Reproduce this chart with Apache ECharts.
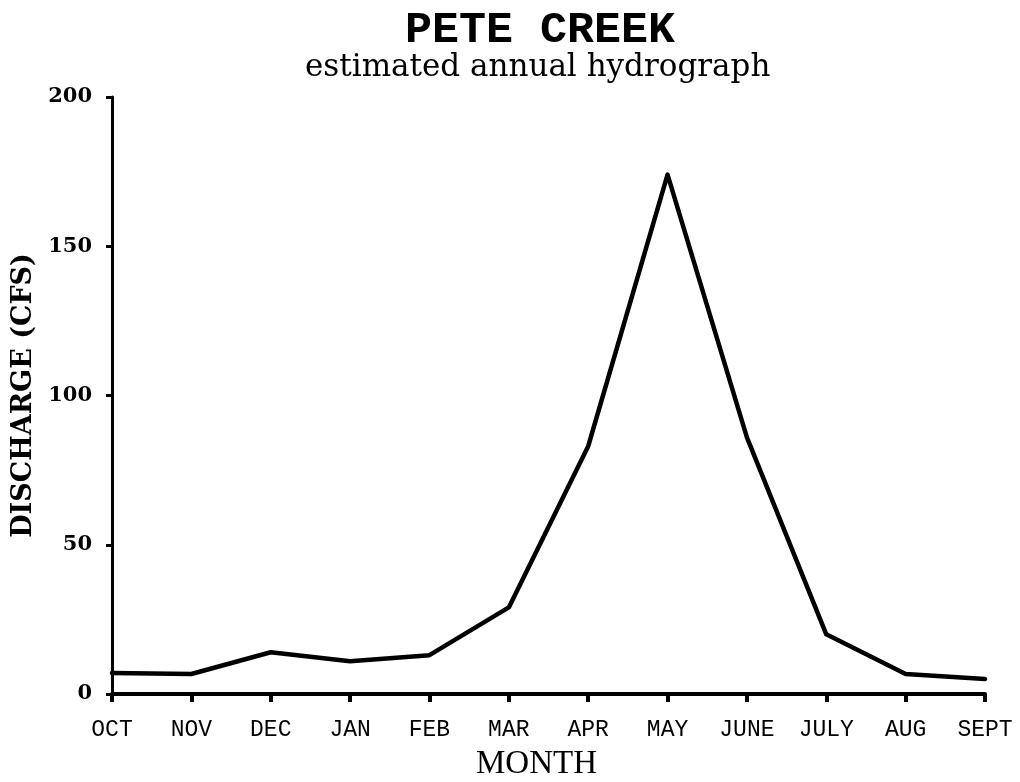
<!DOCTYPE html>
<html>
<head>
<meta charset="utf-8">
<script src="https://cdn.jsdelivr.net/npm/echarts@6/dist/echarts.min.js"></script>
<style>
  html, body { margin: 0; padding: 0; background: #fff; }
  #chart { width: 1020px; height: 782px; }
</style>
</head>
<body>
<div id="chart"></div>
<script>
  // months on the x axis
  var months = ['OCT', 'NOV', 'DEC', 'JAN', 'FEB', 'MAR', 'APR', 'MAY', 'JUNE', 'JULY', 'AUG', 'SEPT'];
  // estimated discharge, cfs
  var discharge = [7, 6.7, 14, 11, 13, 29, 83, 174, 86, 20, 6.7, 5];
  var yTicks = [0, 50, 100, 150, 200];

  var myChart = echarts.init(document.getElementById('chart'));
  var option = {
    backgroundColor: '#fff',
    animation: false,
    title: [{
      text: 'PETE CREEK',
      left: 400,
      top: 3,
      textStyle: { fontFamily: 'Liberation Mono', fontWeight: 'bold', fontSize: 45, color: '#000' }
    }, {
      text: 'estimated annual hydrograph',
      left: 300,
      top: 47,
      textStyle: { fontFamily: 'DejaVu Serif', fontWeight: 'normal', fontSize: 31, color: '#000' }
    }],
    grid: { left: 112, right: 35, top: 97, bottom: 88, outerBoundsMode: 'none' },
    xAxis: {
      type: 'category',
      data: months,
      boundaryGap: false,
      name: 'MONTH',
      nameLocation: 'middle',
      nameGap: 54,
      nameTextStyle: { fontFamily: 'Liberation Serif', fontSize: 33, color: '#000', padding: [0, 24, 0, 0] },
      axisLine: { lineStyle: { color: '#000', width: 4 } },
      axisTick: { show: true, length: 8, lineStyle: { color: '#000', width: 4 } },
      axisLabel: { fontFamily: 'Liberation Mono', fontSize: 23, color: '#000', margin: 24 },
      splitLine: { show: false }
    },
    yAxis: {
      type: 'value',
      min: yTicks[0],
      max: yTicks[yTicks.length - 1],
      interval: 50,
      name: 'DISCHARGE (CFS)',
      nameLocation: 'middle',
      nameRotate: 90,
      nameGap: 72,
      nameTextStyle: { fontFamily: 'DejaVu Serif', fontWeight: 'bold', fontSize: 27, color: '#000' },
      axisLine: { show: true, lineStyle: { color: '#000', width: 3 } },
      axisTick: { show: true, length: 6, lineStyle: { color: '#000', width: 3 } },
      axisLabel: { fontFamily: 'DejaVu Serif', fontWeight: 'bold', fontSize: 21, color: '#000', margin: 20 },
      splitLine: { show: false }
    },
    series: [{
      type: 'line',
      data: discharge,
      showSymbol: false,
      lineStyle: { color: '#000', width: 4.5, join: 'round', cap: 'round' }
    }]
  };
  myChart.setOption(option);
</script>
</body>
</html>
